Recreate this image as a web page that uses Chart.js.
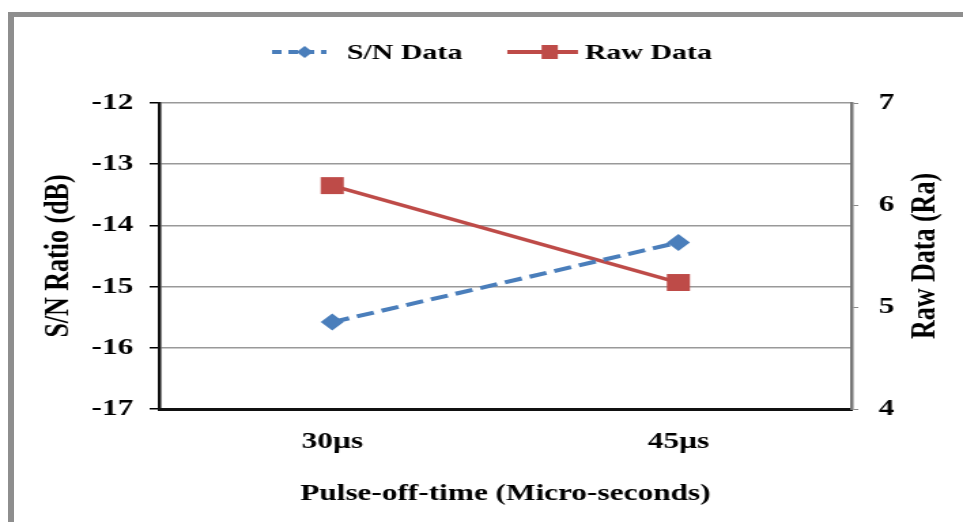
<!DOCTYPE html>
<html>
<head>
<meta charset="utf-8">
<script src="https://cdn.jsdelivr.net/npm/chart.js@4/dist/chart.umd.min.js"></script>
<style>
  html, body { margin: 0; padding: 0; background: #fff; }
  #wrap { position: relative; width: 963px; height: 522px; overflow: hidden; }
  #chart { position: absolute; left: 0; top: 0; }
  #frame { position: absolute; left: 8px; top: 12px; width: 980px; height: 540px;
           border-left: 6px solid #8e8e8e; border-top: 5px solid #8e8e8e; pointer-events: none; }
</style>
</head>
<body>
<div id="wrap">
  <!-- the source picture is stretched sideways, so the canvas is drawn narrow and widened -->
  <canvas id="chart" width="708" height="522" style="width:963px;height:522px"></canvas>
  <div id="frame"></div>
</div>
<script>
// Data
const categories = ['30\u00b5s', '45\u00b5s'];
const snValues = [-15.58, -14.28];
const rawValues = [6.19, 5.24];
const snTicks = [-17, -16, -15, -14, -13, -12];
const rawTicks = [4, 5, 6, 7];

const BLUE = '#4a7ebb';
const RED = '#be4b48';
const FONT = 'Liberation Serif';

// legend drawn as line + marker, and the right axis title read bottom-to-top
const extrasPlugin = {
    id: 'extras',
    afterDraw(chart) {
        const ctx = chart.ctx;
        const y = 52;
        let x = 200;
        const items = [
            { text: 'S/N Data', color: BLUE, dash: [7, 5], marker: 'diamond', w: 40, gap: 15, after: 33 },
            { text: 'Raw Data', color: RED, dash: [], marker: 'square', w: 52, gap: 5, after: 0 }
        ];
        ctx.save();
        ctx.font = 'bold 22px ' + FONT;
        ctx.textBaseline = 'middle';
        items.forEach(it => {
            ctx.strokeStyle = it.color;
            ctx.fillStyle = it.color;
            ctx.lineWidth = 4;
            ctx.setLineDash(it.dash);
            ctx.beginPath();
            ctx.moveTo(x, y);
            ctx.lineTo(x + it.w, y);
            ctx.stroke();
            ctx.setLineDash([]);
            const mx = x + it.w * 0.6;
            ctx.beginPath();
            if (it.marker === 'diamond') {
                ctx.moveTo(mx - 6, y);
                ctx.lineTo(mx, y - 6);
                ctx.lineTo(mx + 6, y);
                ctx.lineTo(mx, y + 6);
                ctx.closePath();
            } else {
                ctx.rect(mx - 6, y - 7, 12, 14);
            }
            ctx.fill();
            const tx = x + it.w + it.gap;
            ctx.fillStyle = '#000';
            ctx.fillText(it.text, tx, y + 1);
            x = tx + ctx.measureText(it.text).width + it.after;
        });

        const area = chart.chartArea;
        ctx.textAlign = 'center';
        ctx.font = 'bold 23px ' + FONT;
        ctx.fillText('Pulse-off-time (Micro-seconds)', (area.left + area.right) / 2, 494);

        ctx.translate(680, (area.top + area.bottom) / 2);
        ctx.rotate(-Math.PI / 2);
        ctx.font = 'bold 26px ' + FONT;
        ctx.fillText('Raw Data (Ra)', 0, 0);
        ctx.restore();
    }
};

const ctx = document.getElementById('chart').getContext('2d');
new Chart(ctx, {
    type: 'line',
    data: {
        labels: categories,
        datasets: [
            {
                label: 'S/N Data',
                data: snValues,
                yAxisID: 'y',
                borderColor: BLUE,
                backgroundColor: BLUE,
                borderWidth: 4,
                borderDash: [13, 6],
                pointStyle: 'rectRot',
                pointRadius: 8.5,
                pointBorderWidth: 0,
                tension: 0
            },
            {
                label: 'Raw Data',
                data: rawValues,
                yAxisID: 'y1',
                borderColor: RED,
                backgroundColor: RED,
                borderWidth: 3.5,
                pointStyle: 'rect',
                pointRadius: 12,
                pointBorderWidth: 0,
                tension: 0
            }
        ]
    },
    options: {
        responsive: false,
        animation: false,
        layout: { padding: { top: 103, left: 0, right: 0, bottom: 0 } },
        plugins: {
            legend: { display: false },
            tooltip: { enabled: false }
        },
        scales: {
            x: {
                offset: true,
                grid: { display: false, drawTicks: false },
                border: { display: true, color: '#111', width: 3 },
                ticks: {
                    color: '#000',
                    padding: 19,
                    font: { family: FONT, size: 23, weight: 'bold' }
                },
                title: { display: false },
                afterFit: s => { s.height = 113; }
            },
            y: {
                position: 'left',
                min: -17,
                max: -12,
                afterBuildTicks: s => { s.ticks = snTicks.map(v => ({ value: v })); },
                grid: { color: '#999', lineWidth: 1.5, tickColor: '#000', tickLength: 7 },
                border: { display: true, color: '#111', width: 2.5 },
                ticks: {
                    color: '#000',
                    padding: 12,
                    font: { family: FONT, size: 23, weight: 'bold' }
                },
                title: {
                    display: true,
                    text: 'S/N Ratio (dB)',
                    color: '#000',
                    padding: { top: 28, bottom: 0 },
                    font: { family: FONT, size: 26, weight: 'bold' }
                },
                afterFit: s => { s.width = 117; }
            },
            y1: {
                position: 'right',
                min: 4,
                max: 7,
                afterBuildTicks: s => { s.ticks = rawTicks.map(v => ({ value: v })); },
                grid: { drawOnChartArea: false, color: '#888', tickLength: 5 },
                border: { display: true, color: '#777', width: 2.5 },
                ticks: {
                    color: '#000',
                    padding: 15,
                    font: { family: FONT, size: 23, weight: 'bold' }
                },
                title: { display: false },
                afterFit: s => { s.width = 82; }
            }
        }
    },
    plugins: [extrasPlugin]
});
</script>
</body>
</html>
